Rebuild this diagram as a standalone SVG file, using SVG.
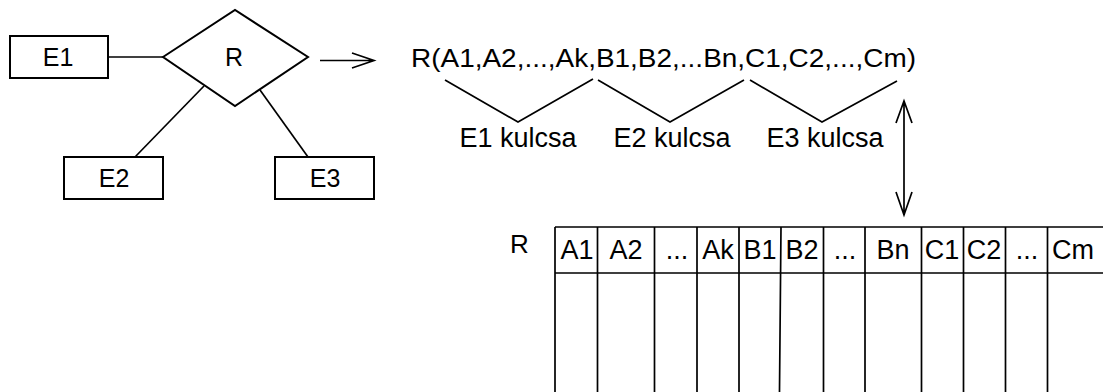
<svg xmlns="http://www.w3.org/2000/svg" width="1103" height="392" viewBox="0 0 1103 392">
<style>
.box{fill:#fff;stroke:#000;stroke-width:2}
.ln{fill:none;stroke:#000;stroke-width:1.7}
.t{font-family:"Liberation Sans",Arial,sans-serif;fill:#000}
.s{font-size:25px;text-anchor:middle}
.m{font-size:26px}
.h{font-size:27px;text-anchor:middle}
</style>
<rect width="1103" height="392" fill="#fff"/>
<g id="connectors">
<line class="ln" x1="109" y1="57" x2="163" y2="57"/>
<line class="ln" x1="204" y1="86" x2="135" y2="157"/>
<line class="ln" x1="260" y1="90" x2="308" y2="157"/>
<path class="ln" d="M320 60.5H374M352 53L374 60.5L352 68"/>
<path class="ln" d="M904 101V215M896 123L904 101L912 123M896 192L904 215L912 192"/>
<polyline class="ln" points="445,80 518,122 593,79"/>
<polyline class="ln" points="598,80 670,122 744,80"/>
<polyline class="ln" points="750,80 822,122 897,81"/>
</g>
<g id="E1"><rect class="box" x="10" y="36" width="98" height="42"/><text class="t s" x="58" y="66">E1</text></g>
<g id="E2"><rect class="box" x="64" y="157" width="99" height="42"/><text class="t s" x="114" y="187">E2</text></g>
<g id="E3"><rect class="box" x="275" y="157" width="99" height="42"/><text class="t s" x="325" y="187">E3</text></g>
<g id="R"><polygon class="box" points="163,57 235,10 308,57 235,106"/><text class="t s" x="234" y="66">R</text></g>
<g id="relation"><text class="t m" x="411" y="67" font-size="27" textLength="505" lengthAdjust="spacingAndGlyphs">R(A1,A2,...,Ak,B1,B2,...Bn,C1,C2,...,Cm)</text></g>
<g id="keys">
<text class="t h" x="518" y="147" font-size="26">E1 kulcsa</text>
<text class="t h" x="672" y="147" font-size="26">E2 kulcsa</text>
<text class="t h" x="825" y="147" font-size="26">E3 kulcsa</text>
</g>
<g id="table">
<text class="t m" x="510" y="253">R</text>
<path class="ln" stroke-width="2" d="M555 227H1103M555 273H1103M555 227V392M597.5 227V392M654.5 227V392M697 227V392M739 227V392M781 227L779.5 392M823.5 227V392M865 227V392M921.5 227V392M963.5 227V392M1005.5 227V392M1047.5 227V392"/>
<text class="t h" x="577" y="259">A1</text>
<text class="t h" x="626" y="259">A2</text>
<text class="t h" x="677" y="259">...</text>
<text class="t h" x="718" y="259">Ak</text>
<text class="t h" x="760" y="259">B1</text>
<text class="t h" x="802" y="259">B2</text>
<text class="t h" x="845" y="259">...</text>
<text class="t h" x="893" y="259">Bn</text>
<text class="t h" x="942" y="259">C1</text>
<text class="t h" x="984" y="259">C2</text>
<text class="t h" x="1027" y="259">...</text>
<text class="t" x="1052" y="259" font-size="27">Cm</text>
</g>
</svg>
